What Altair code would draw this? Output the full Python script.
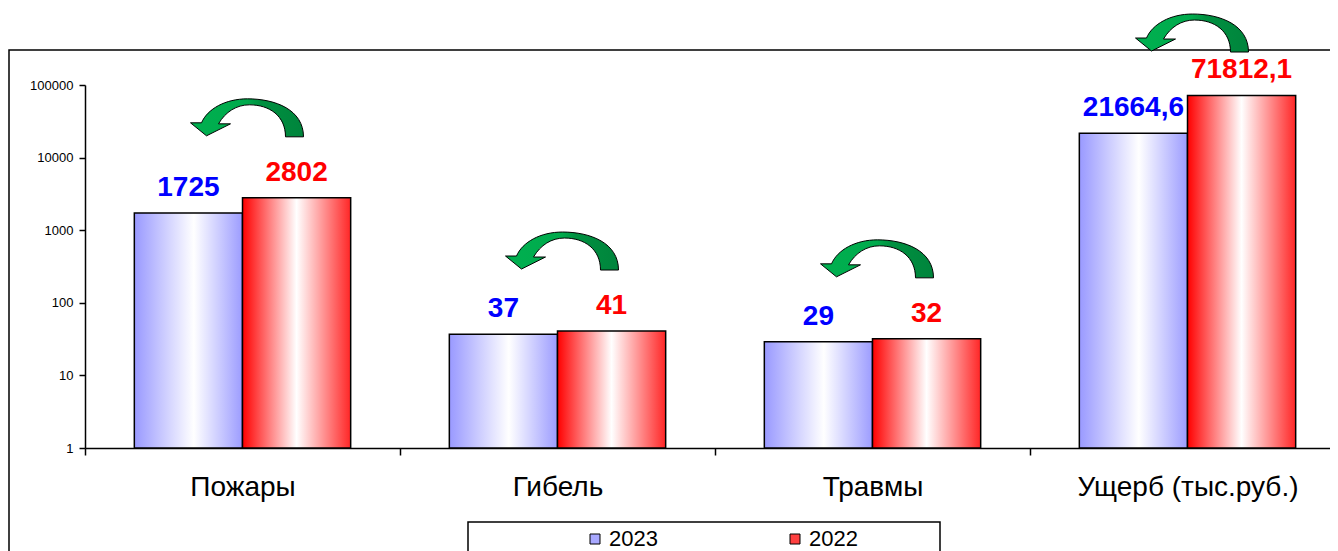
import altair as alt
import pandas as pd

# ---- data ----
categories = ["Пожары", "Гибель", "Травмы", "Ущерб (тыс.руб.)"]
series = ["2023", "2022"]
values_2023 = [1725, 37, 29, 21664.6]
values_2022 = [2802, 41, 32, 71812.1]
y_ticks = [1, 10, 100, 1000, 10000, 100000]


def fmt(v):
    return f"{v:.1f}".replace(".", ",") if v != int(v) else str(int(v))


rows = []
for c, a, b in zip(categories, values_2023, values_2022):
    rows.append({"category": c, "series": "2023", "value": a, "label": fmt(a)})
    rows.append({"category": c, "series": "2022", "value": b, "label": fmt(b)})
df = pd.DataFrame(rows)

FONT = "Arial, Liberation Sans, sans-serif"


def grad(left, right, mid):
    return {
        "gradient": "linear", "x1": 0, "x2": 1, "y1": 0, "y2": 0,
        "stops": [
            {"offset": 0, "color": left},
            {"offset": mid, "color": "#FFFFFF"},
            {"offset": 1, "color": right},
        ],
    }


blue_grad = grad("#9999FF", "#9C9CFF", 0.55)
red_grad = grad("#FF0000", "#FF2626", 0.5)
green_grad = {
    "gradient": "linear", "x1": 0, "x2": 1, "y1": 0, "y2": 0,
    "stops": [
        {"offset": 0, "color": "#00B050"},
        {"offset": 0.5, "color": "#00AA4C"},
        {"offset": 0.62, "color": "#009040"},
        {"offset": 1, "color": "#00843C"},
    ],
}

# curved arrow outline (pixel units around its centre), normalised for a custom symbol
S = 57.0
arrow_cmds = [
    ("M", [(56, 19)]),
    ("C", [(56, -8), (28, -19), (0, -19)]),
    ("C", [(-22, -19), (-40, -9), (-46, 5)]),
    ("L", [(-57, 5)]),
    ("L", [(-41, 18)]),
    ("L", [(-17, 6)]),
    ("L", [(-29, 6)]),
    ("C", [(-22, -6), (-11, -13), (2, -13)]),
    ("C", [(22, -13), (38, -2), (38, 19)]),
]
ARROW = " ".join(
    cmd + " " + " ".join(f"{px / S:.4f} {py / S:.4f}" for px, py in pts)
    for cmd, pts in arrow_cmds
) + " Z"
ARROW_SIZE = (2 * S) ** 2

PLOT_W = 1245
BAND_RANGE = 1260
PLOT_H = 363

x_enc = alt.X(
    "category:N",
    sort=categories,
    scale=alt.Scale(domain=categories, range=[0, BAND_RANGE], paddingInner=0, paddingOuter=0),
    axis=alt.Axis(
        title=None, labelFont=FONT, labelFontSize=28, labelColor="black", labelAngle=0,
        labelBaseline="alphabetic", labelPadding=40, labelLimit=400,
        tickBand="extent", tickSize=7, tickColor="black", tickWidth=1.5,
        domainColor="black", domainWidth=1.5, grid=False,
    ),
)
x_off = alt.XOffset(
    "series:N", sort=series,
    scale=alt.Scale(domain=series, paddingInner=0, paddingOuter=0.456),
)
y_scale = alt.Scale(type="log", domain=[1, 100000], nice=False)
y_axis = alt.Axis(
    title=None, values=y_ticks, format="d", labelFont=FONT, labelFontSize=13,
    labelColor="black", tickSize=6, labelPadding=6, tickColor="black", tickWidth=1.5,
    domainColor="black", domainWidth=1.5, grid=False,
)
y_enc = alt.Y("value:Q", scale=y_scale, axis=y_axis)

is2023 = "datum.series === '2023'"

bars = alt.Chart(df).mark_bar(stroke="black", strokeWidth=1.5).encode(
    x=x_enc, xOffset=x_off, y=y_enc, y2=alt.datum(1),
    fill=alt.condition(is2023, alt.value(blue_grad), alt.value(red_grad)),
)

labels = alt.Chart(df).mark_text(
    font=FONT, fontSize=28, fontWeight="bold", baseline="alphabetic", dy=-17
).encode(
    x=x_enc, xOffset=x_off, y=y_enc, text="label:N",
    color=alt.condition(is2023, alt.value("#0000FF"), alt.value("#FF0000")),
)

arrows = alt.Chart(df).transform_aggregate(
    top="max(value)", groupby=["category"]
).transform_calculate(
    arrow_y="min(datum.top * 12.6, 520000)"
).mark_point(
    shape=ARROW, size=ARROW_SIZE, filled=True, fill=green_grad, stroke="black",
    strokeWidth=1, opacity=1, xOffset=5,
).encode(
    x=x_enc, y=alt.Y("arrow_y:Q", scale=y_scale, axis=y_axis),
)

legend_layer = alt.Chart(df).mark_square(opacity=0, size=1).encode(
    x=x_enc, y=y_enc,
    color=alt.Color(
        "series:N", sort=series,
        scale=alt.Scale(domain=series, range=["#A8A8FF", "#FF4040"]),
        legend=alt.Legend(
            title=None, orient="none", legendX=499, legendY=443, direction="horizontal",
            symbolType="square", symbolSize=100, symbolStrokeColor="black",
            symbolStrokeWidth=1, symbolOpacity=1, labelFont=FONT, labelFontSize=22,
            labelColor="black", labelOffset=3, columnPadding=126, padding=0, labelLimit=200,
        ),
    ),
)

one = alt.Data(values=[{"k": 1}])
frame = alt.Chart(one).mark_rect(fillOpacity=0, stroke="black", strokeWidth=1.5).encode(
    x=alt.value(-76), x2=alt.value(1400), y=alt.value(-35), y2=alt.value(700)
)
legend_box = alt.Chart(one).mark_rect(fillOpacity=0, stroke="black", strokeWidth=1.5).encode(
    x=alt.value(383), x2=alt.value(855), y=alt.value(437), y2=alt.value(700)
)

chart = alt.layer(frame, legend_box, bars, labels, arrows, legend_layer).properties(
    width=PLOT_W, height=PLOT_H,
    autosize=alt.AutoSizeParams(type="none"),
    padding={"left": 77, "top": 77, "right": 0, "bottom": 103},
    background="white",
).configure_view(stroke=None)

chart.save("out.html", embed_options={"renderer": "svg", "actions": False})
